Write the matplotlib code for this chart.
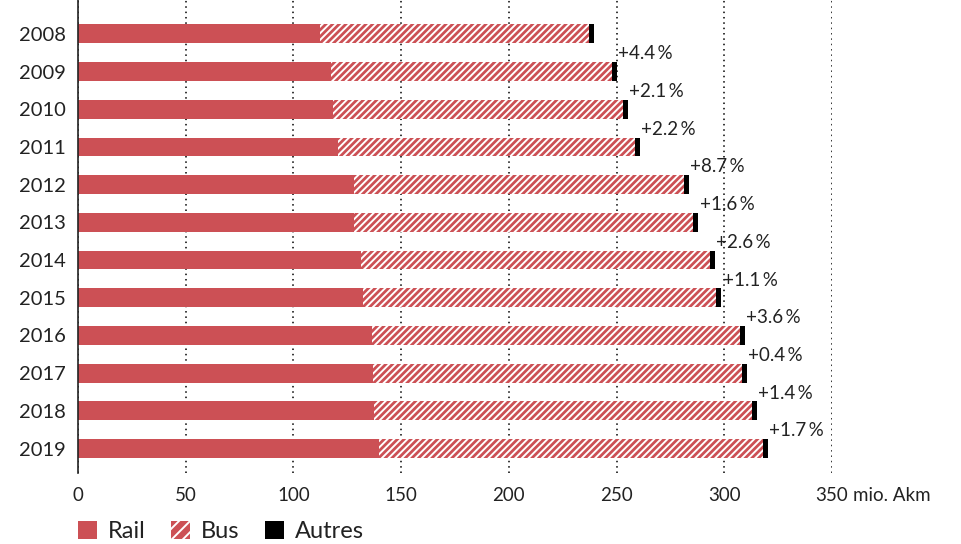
import numpy as np
import matplotlib
matplotlib.use("Agg")
import matplotlib.pyplot as plt
from matplotlib.patches import Patch
from matplotlib.transforms import offset_copy

plt.rcParams['font.family'] = ['Lato', 'DejaVu Sans']
plt.rcParams['hatch.linewidth'] = 1.4

# Données (mio. Akm)
annees = ['2008', '2009', '2010', '2011', '2012', '2013',
          '2014', '2015', '2016', '2017', '2018', '2019']
rail = [112.3, 117.4, 118.5, 120.7, 128.1, 128.3, 131.4, 132.3, 136.5, 137.0, 137.2, 139.7]
bus = [124.9, 130.4, 134.4, 137.9, 153.2, 157.3, 161.9, 164.0, 170.7, 171.2, 175.5, 178.4]
autres = [2.3, 2.2, 2.3, 2.2, 2.2, 2.4, 2.2, 2.4, 2.3, 2.5, 2.4, 2.3]
croissance = ['', '+4.4\u2009%', '+2.1\u2009%', '+2.2\u2009%', '+8.7\u2009%', '+1.6\u2009%',
              '+2.6\u2009%', '+1.1\u2009%', '+3.6\u2009%', '+0.4\u2009%', '+1.4\u2009%', '+1.7\u2009%']
xticks = [0, 50, 100, 150, 200, 250, 300, 350]

rouge = '#CC5055'
hachure = '/////'

fig = plt.figure(figsize=(9.62, 5.44), dpi=100)
ax = fig.add_axes([78/962, 1-473/544, (832-78)/962, 473/544])

y = np.arange(len(annees))
rail = np.array(rail)
bus = np.array(bus)
autres = np.array(autres)
h = 0.5

ax.barh(y, rail, height=h, color=rouge, linewidth=0, zorder=3)
ax.barh(y, bus, left=rail, height=h, color=rouge, edgecolor='white',
        hatch=hachure, linewidth=0, zorder=3)
ax.barh(y, autres, left=rail+bus, height=h, color='black', linewidth=0, zorder=3)

total = rail + bus + autres
for i, txt in enumerate(croissance):
    if txt:
        ax.text(total[i] + 0.5, y[i] - 0.47, txt, ha='left', va='center',
                fontsize=13.5, color='#222222', zorder=4)

ax.set_xlim(0, 350)
ax.set_ylim(len(annees) - 0.35, -0.9)
ax.set_xticks(xticks)
ax.set_xticklabels([str(v) for v in xticks], fontsize=13.5, color='#222222')
ax.set_yticks(y)
ax.set_yticklabels(annees, fontsize=14.5, color='#222222')
ax.tick_params(axis='x', length=0, pad=10)
ax.tick_params(axis='y', length=0, pad=9)

ax.grid(axis='x', linestyle=(0, (1, 2.5)), color='black', linewidth=1.1, zorder=0)
ax.grid(axis='y', visible=False)
for s in ['top', 'right', 'bottom']:
    ax.spines[s].set_visible(False)
ax.spines['left'].set_color('#222222')
ax.spines['left'].set_linewidth(1.2)
ax.spines['left'].set_zorder(5)

# unité après le dernier tick
tr = offset_copy(ax.get_xaxis_transform(), fig=fig, x=15, y=-10, units='points')
ax.text(350, 0, 'mio. Akm', transform=tr, ha='left', va='top', fontsize=13.5, color='#222222')

handles = [Patch(facecolor=rouge, edgecolor=rouge, linewidth=0),
           Patch(facecolor=rouge, edgecolor='white', hatch='///', linewidth=0),
           Patch(facecolor='black', edgecolor='black', linewidth=0)]
fig.legend(handles, ['Rail', 'Bus', 'Autres'], loc='lower left',
           bbox_to_anchor=(57/962, -0.035), ncol=3, frameon=False, fontsize=17,
           handlelength=0.8, handleheight=0.8, handletextpad=0.45, columnspacing=1.1,
           labelcolor='#222222')

fig.savefig('out.png', dpi=100)
